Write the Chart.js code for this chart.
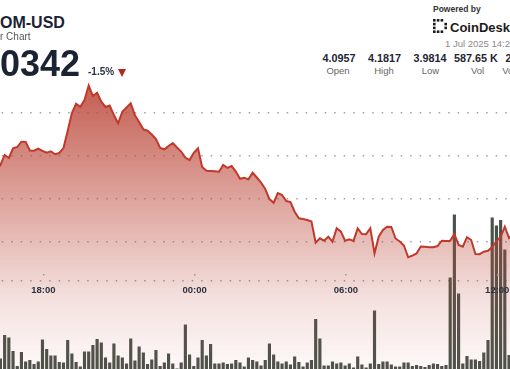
<!DOCTYPE html>
<html>
<head>
<meta charset="utf-8">
<script src="https://cdn.jsdelivr.net/npm/chart.js@4.4.0/dist/chart.umd.min.js"></script>
<style>
  html, body { margin: 0; padding: 0; background: #fff; }
  body { width: 510px; height: 369px; overflow: hidden; position: relative; font-family: "Liberation Sans", Arial, sans-serif; }
  .t { position: absolute; white-space: nowrap; line-height: 1; }
  .cut { position: absolute; right: 100%; top: 0; }
  #wrap { position: absolute; left: -50px; top: 78px; width: 620px; height: 293px; }
  #wrap canvas { display: block; }
  .val { position: absolute; top: 52.6px; width: 50px; text-align: center; font-size: 10.8px; font-weight: bold; color: #1f2533; line-height: 1; white-space: nowrap; }
  .lab { position: absolute; top: 65.5px; width: 50px; text-align: center; font-size: 9.5px; color: #666; line-height: 1; white-space: nowrap; }
</style>
</head>
<body>
<div id="wrap"><canvas id="chart"></canvas></div>

<div class="t" style="left:0; top:14.5px; font-size:16px; font-weight:bold; color:#1b2333;"><span class="cut">AT</span>OM-USD</div>
<div class="t" style="left:0; top:31.5px; font-size:10px; color:#555;"><span class="cut">24 Hou</span>r Chart</div>
<div class="t" style="left:0; top:45.5px; font-size:36px; font-weight:bold; color:#1b2333;"><span class="cut">4.</span>0342</div>
<div class="t" style="left:88px; top:66.5px; font-size:10px; font-weight:bold; color:#2b3240;">-1.5%</div>
<div style="position:absolute; left:118px; top:68.5px; width:0; height:0; border-left:4.8px solid transparent; border-right:4.8px solid transparent; border-top:8px solid #b3261e;"></div>

<div class="t" style="left:433px; top:5.3px; font-size:8.5px; font-weight:bold; color:#333;">Powered by</div>
<svg style="position:absolute; left:433px; top:19px;" width="15" height="14" viewBox="0 0 15 14">
  <g fill="#1b1b1b">
    <rect x="0" y="0" width="2.6" height="2.6"/><rect x="0" y="3.8" width="2.6" height="2.6"/>
    <rect x="0" y="7.6" width="2.6" height="2.6"/><rect x="0" y="11.4" width="2.6" height="2.6"/>
    <rect x="3.8" y="0" width="2.6" height="2.6"/><rect x="7.6" y="0" width="2.6" height="2.6"/>
    <rect x="3.8" y="11.4" width="2.6" height="2.6"/><rect x="7.6" y="11.4" width="2.6" height="2.6"/>
    <rect x="11.4" y="3.8" width="2.6" height="2.6"/><rect x="11.4" y="7.6" width="2.6" height="2.6"/>
  </g>
</svg>
<div class="t" style="left:450px; top:20.7px; font-size:13px; font-weight:bold; color:#1b1b1b;">CoinDesk</div>
<div class="t" style="left:445px; top:39px; font-size:9.5px; color:#8a8a8a;">1 Jul 2025 14:23</div>

<div class="val" style="left:314px;">4.0957</div><div class="lab" style="left:313px;">Open</div>
<div class="val" style="left:359.5px;">4.1817</div><div class="lab" style="left:359px;">High</div>
<div class="val" style="left:405px;">3.9814</div><div class="lab" style="left:405.5px;">Low</div>
<div class="val" style="left:451px;">587.65 K</div><div class="lab" style="left:452.5px;">Vol</div>
<div class="val" style="left:497px;">2.38 M</div><div class="lab" style="left:497px;">Vol(USD)</div>

<script>
// 10-minute samples, first one at 14:28 the previous day (minutes from that midnight)
const startMinute = 868;
const stepMinutes = 10;

const prices = [
  4.0948, 4.0972, 4.0925, 4.0878, 4.0913, 4.0855, 4.0820, 4.0867, 4.0808, 4.0843,
  4.0832, 4.0890, 4.1007, 4.0972, 4.1085, 4.1100, 4.1162, 4.1160, 4.1059, 4.1057,
  4.1080, 4.1055, 4.1033, 4.1050, 4.1016, 4.1030, 4.1088, 4.1287, 4.1497, 4.1605,
  4.1570, 4.1648, 4.1817, 4.1695, 4.1733, 4.1628, 4.1567, 4.1584, 4.1473, 4.1376,
  4.1512, 4.1561, 4.1610, 4.1470, 4.1392, 4.1306, 4.1290, 4.1246, 4.1193, 4.1088,
  4.1073, 4.1112, 4.1147, 4.1094, 4.1047, 4.0977, 4.0948, 4.1033, 4.1086, 4.0867,
  4.0823, 4.0820, 4.0816, 4.0812, 4.0890, 4.0857, 4.0878, 4.0814, 4.0729, 4.0741,
  4.0723, 4.0800, 4.0744, 4.0686, 4.0610, 4.0493, 4.0450, 4.0563, 4.0540, 4.0470,
  4.0458, 4.0345, 4.0268, 4.0260, 4.0248, 4.0231, 3.9984, 4.0035, 4.0007, 4.0054,
  3.9995, 4.0152, 4.0112, 4.0007, 4.0023, 4.0005, 4.0150, 4.0085, 4.0083, 4.0152,
  3.9860, 4.0054, 4.0132, 4.0170, 4.0168, 4.0033, 3.9998, 3.9951, 3.9814, 3.9832,
  3.9858, 3.9939, 3.9937, 3.9930, 3.9931, 3.9945, 4.0007, 4.0003, 4.0006, 4.0085,
  3.9957, 3.9937, 4.0047, 4.0015, 3.9852, 3.9850, 3.9879, 3.9890, 3.9934, 4.0003,
  4.0050, 4.0170, 4.0038, 4.0085, 4.0132, 4.0155, 4.0202, 4.0178, 4.0248, 4.0272,
  4.0225, 4.0295, 4.0318, 4.0342
];

// volume per bar, thousands of ATOM
const volumes = [
  3.1, 2.4, 4.6, 1.8, 2.9, 5.3, 2.2, 1.6, 3.4, 2.0, 4.1,
  2.5, 7.2, 6.7, 4.0, 1.0, 3.8, 1.9, 2.2, 1.4, 1.9,
  6.3, 4.4, 3.1, 3.1, 1.8, 1.7, 6.2, 3.5, 1.8, 0.9,
  3.9, 3.9, 5.2, 6.4, 5.7, 2.7, 1.7, 5.5, 3.1, 2.7,
  1.5, 6.5, 2.1, 4.9, 3.7, 1.4, 2.3, 4.2, 1.0, 1.7,
  3.5, 1.5, 0.5, 1.7, 9.3, 3.3, 1.0, 2.7, 6.2, 3.1,
  5.4, 1.5, 1.5, 1.7, 1.4, 1.5, 2.2, 1.7, 0.9, 2.7,
  2.2, 1.9, 1.1, 2.2, 5.5, 3.3, 1.9, 1.5, 1.9, 1.3,
  2.9, 1.8, 0.9, 1.7, 2.2, 10.4, 6.5, 1.1, 1.1, 1.9,
  1.5, 1.7, 1.1, 1.5, 0.7, 2.9, 1.3, 0.7, 1.5, 12.1,
  1.4, 1.9, 1.9, 1.3, 0.9, 0.9, 1.7, 1.7, 1.0, 1.2,
  1.0, 0.8, 1.2, 1.5, 1.4, 1.0, 1.2, 18.7, 31.3, 15.5,
  1.5, 3.0, 2.3, 2.3, 2.0, 3.7, 6.2, 30.7, 29.1, 30.2, 24.3, 3.2,
  8.5, 12.4, 6.1, 9.8, 4.2, 5.6, 14.3, 7.2, 3.9, 6.8, 5.1
];

const tickMinutes = [1080, 1440, 1800, 2160];
const tickLabels = ['18:00', '00:00', '06:00', '12:00'];
const gridPrices = [4.00, 4.05, 4.10, 4.15];
const axisPrice = 3.9537;

const times = prices.map((p, i) => startMinute + i * stepMinutes);
const pricePoints = prices.map((p, i) => ({ x: times[i], y: p }));
const volumePoints = volumes.map((v, i) => ({ x: times[i], y: v }));

function fillGradient(context) {
  const { ctx, chartArea } = context.chart;
  if (!chartArea) return 'rgba(188,72,58,0.4)';
  const g = ctx.createLinearGradient(0, chartArea.top, 0, chartArea.bottom);
  g.addColorStop(0, 'rgba(188,72,58,0.9)');
  g.addColorStop(0.76, 'rgba(188,72,58,0.16)');
  g.addColorStop(1, 'rgba(188,72,58,0.03)');
  return g;
}

new Chart(document.getElementById('chart'), {
  type: 'line',
  data: {
    datasets: [{
      type: 'line',
      label: 'Price',
      data: pricePoints,
      yAxisID: 'y',
      borderColor: '#c0392b',
      borderWidth: 2,
      backgroundColor: fillGradient,
      fill: 'start',
      pointRadius: 0,
      tension: 0,
      order: 1
    }, {
      type: 'bar',
      label: 'Volume',
      data: volumePoints,
      yAxisID: 'y1',
      backgroundColor: '#4b524b',
      barPercentage: 0.75,
      categoryPercentage: 1,
      order: 2
    }]
  },
  options: {
    responsive: true,
    maintainAspectRatio: false,
    animation: false,
    layout: { padding: 0 },
    plugins: {
      legend: { display: false },
      tooltip: { enabled: false }
    },
    scales: {
      x: {
        type: 'linear',
        min: 858.03,
        max: 2333.06,
        offset: false,
        position: { y: axisPrice },
        afterBuildTicks: (scale) => { scale.ticks = tickMinutes.map(v => ({ value: v })); },
        ticks: {
          z: 1, // labels sit on top of the volume bars
          callback: (v, i) => tickLabels[i],
          color: '#2a3140',
          font: { family: '"Liberation Sans", Arial, sans-serif', size: 9.5, weight: 'bold' },
          padding: 4,
          maxRotation: 0,
          autoSkip: false
        },
        grid: { z: 1, color: '#9a9a9a', lineWidth: 1.5, drawTicks: false, offset: false },
        border: { display: false, dash: [1.5, 1000], dashOffset: -196 }
      },
      y: {
        position: 'right',
        min: 3.8487,
        max: 4.1905,
        afterBuildTicks: (scale) => {
          scale.ticks = [axisPrice].concat(gridPrices).map(v => ({ value: v }));
        },
        ticks: { display: false },
        grid: { color: '#a0a0a0', lineWidth: 1.5, drawTicks: false },
        border: { display: false, dash: [1.5, 8], dashOffset: 5.3 }
      },
      y1: {
        display: false,
        min: 0,
        max: 58.6
      }
    }
  }
});
</script>
</body>
</html>
